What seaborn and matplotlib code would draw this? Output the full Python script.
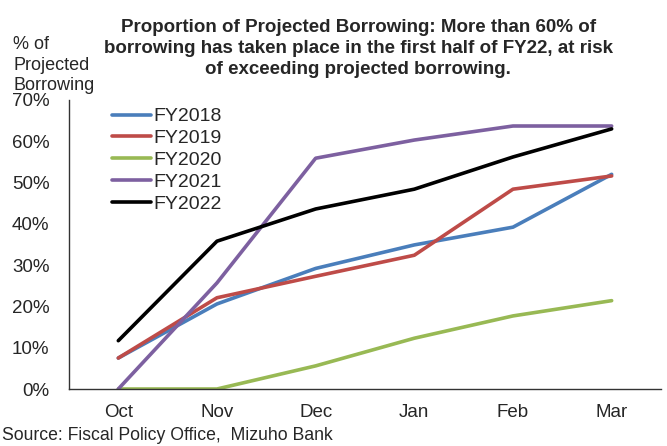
import matplotlib
matplotlib.use("Agg")
import matplotlib.pyplot as plt
import seaborn as sns
import pandas as pd
import numpy as np
from matplotlib.ticker import FixedLocator, PercentFormatter

months = ["Oct", "Nov", "Dec", "Jan", "Feb", "Mar"]
fy2018 = [7.5, 20.6, 29.2, 34.9, 39.2, 52.0]
fy2019 = [7.5, 22.1, 27.3, 32.4, 48.4, 51.6]
fy2020 = [0.0, 0.0, 5.6, 12.3, 17.7, 21.4]
fy2021 = [0.0, 25.7, 55.9, 60.3, 63.7, 63.7]
fy2022 = [11.7, 35.8, 43.6, 48.4, 56.2, 63.0]
series_names = ["FY2018", "FY2019", "FY2020", "FY2021", "FY2022"]
colors = ["#4A7EBB", "#BE4B48", "#98B954", "#7D60A0", "#000000"]

rows = []
for name, vals in zip(series_names, [fy2018, fy2019, fy2020, fy2021, fy2022]):
    for i, v in enumerate(vals):
        rows.append({"pos": i, "value": v, "series": name})
df = pd.DataFrame(rows)

sns.set_style("white")
plt.rcParams["font.family"] = ["Liberation Sans", "DejaVu Sans"]

fig = plt.figure(figsize=(6.67, 4.46), dpi=100)
ax = fig.add_axes([0.1034, 0.1278, 0.8876, 0.648])
sns.lineplot(data=df, x="pos", y="value", hue="series", hue_order=series_names,
             palette=colors, linewidth=2.6, ax=ax, legend=True)

ax.set_xlim(-0.5, 5.5)
ax.set_ylim(0, 70)
ax.yaxis.set_major_locator(FixedLocator(np.arange(0, 71, 10)))
ax.yaxis.set_major_formatter(PercentFormatter(decimals=0))
ax.xaxis.set_major_locator(FixedLocator(np.arange(-0.5, 6.0, 1.0)))
ax.xaxis.set_minor_locator(FixedLocator(np.arange(0, 6)))
ax.set_xticklabels([""] * 7)
ax.set_xticklabels(months, minor=True)
ax.tick_params(axis="x", which="major", length=4, width=1, direction="out", color="#333333")
ax.tick_params(axis="x", which="minor", length=0, labelsize=13.5, pad=11)
ax.tick_params(axis="y", which="major", length=4, width=1, direction="out", color="#333333",
               labelsize=13.5, pad=10)
for s in ["top", "right"]:
    ax.spines[s].set_visible(False)
for s in ["left", "bottom"]:
    ax.spines[s].set_color("#333333")
    ax.spines[s].set_linewidth(1)
ax.set_xlabel("")
ax.set_ylabel("")

leg = ax.legend(loc="upper left", bbox_to_anchor=(0.06, 1.0), frameon=False, fontsize=14,
                handlelength=2.0, handletextpad=0.1, labelspacing=0.22, borderaxespad=0)
for line in leg.get_lines():
    line.set_linewidth(2.6)

fig.text(0.537, 0.958, "Proportion of Projected Borrowing: More than 60% of\n"
         "borrowing has taken place in the first half of FY22, at risk\n"
         "of exceeding projected borrowing.",
         ha="center", va="top", fontsize=13.5, fontweight="bold", linespacing=1.3)
fig.text(0.02, 0.919, "% of\nProjected\nBorrowing", ha="left", va="top", fontsize=13, linespacing=1.28)
fig.text(0.003, 0.005, "Source: Fiscal Policy Office,  Mizuho Bank", ha="left", va="bottom", fontsize=12.7)

fig.savefig("out.png", dpi=100)
